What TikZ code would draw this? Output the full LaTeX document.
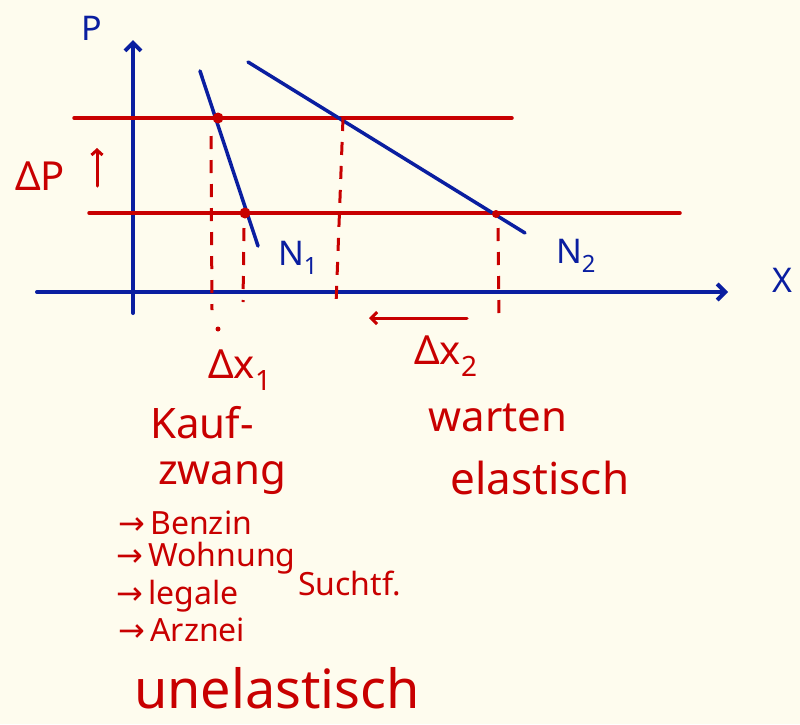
\documentclass[tikz,border=0pt]{standalone}
\usepackage{fontspec}
\setmainfont{Noto Sans}
\newfontfamily\symf{DejaVu Sans}
\usetikzlibrary{arrows.meta}
\definecolor{paper}{RGB}{254,252,238}
\definecolor{ink}{RGB}{10,30,160}
\definecolor{rink}{RGB}{200,0,0}
\tikzset{
  axis/.style={ink, line width=4pt, line cap=round},
  curve/.style={ink, line width=3.5pt, line cap=round},
  level/.style={rink, line width=3.5pt, line cap=round},
  guide/.style={rink, line width=3pt, dash pattern=on 13pt off 11pt},
  pt/.style={circle, fill=rink, inner sep=0pt, minimum size=11pt},
  blab/.style={ink, font=\fontsize{34}{36}\selectfont},
  rlab/.style={rink, font=\fontsize{40}{44}\selectfont, inner sep=0pt},
  slab/.style={rink, font=\fontsize{32}{34}\selectfont, inner sep=0pt, anchor=west},
}
\newcommand{\itm}{{\symf →}\,}
\begin{document}
\begin{tikzpicture}[x=1pt,y=-1pt]
\fill[paper] (0,0) rectangle (800,724);
\useasboundingbox (0,0) rectangle (800,724);
% axes
\coordinate (ybot) at (133,313);
\coordinate (ytop) at (133,40);
\coordinate (xl) at (37,292);
\coordinate (xr) at (728,292);
\draw[axis, -{Straight Barb[length=8pt,width=16pt]}] (ybot) -- (ytop);
\draw[axis, -{Straight Barb[length=8pt,width=16pt]}] (xl) -- (xr);
\node[blab] (P) at (92,28) {P};
\node[blab] (X) at (782,280) {X};
% price levels
\coordinate (u1) at (74,118); \coordinate (u2) at (512,118);
\coordinate (l1) at (89,213); \coordinate (l2) at (680,213);
\draw[level] (u1) -- (u2);
\draw[level] (l1) -- (l2);
% demand curves
\coordinate (n1a) at (200,71); \coordinate (n1b) at (258,246);
\coordinate (n2a) at (248,62); \coordinate (n2b) at (525,233);
\draw[curve] (n1a) -- (n1b);
\draw[curve] (n2a) -- (n2b);
\node[blab] (N1) at (298,258) {N\textsubscript{1}};
\node[blab] (N2) at (576,256) {N\textsubscript{2}};
% points
\node[pt] (A) at (218,118) {};
\node[pt] (B) at (245,213) {};
\node[pt, minimum size=8pt] (C) at (496,214) {};
\coordinate (Cu) at (343,118);
% guides
\coordinate (ga) at (211,136); \coordinate (gab) at (212,310);
\coordinate (gb) at (244,228); \coordinate (gbb) at (243,302);
\coordinate (gcb) at (336,305);
\coordinate (gd) at (498,228); \coordinate (gdb) at (499,320);
\draw[guide] (ga) -- (gab);
\draw[guide] (gb) -- (gbb);
\draw[guide] (Cu) -- (gcb);
\draw[guide] (gd) -- (gdb);
\fill[rink] (218,329) circle (2.5pt);
% shift arrow
\coordinate (sa) at (467,318); \coordinate (sb) at (369,318);
\draw[level, line width=3pt, -{Straight Barb[length=6pt,width=12pt]}] (sa) -- (sb);
% Delta P
\node[rlab] (dP) at (40,176) {ΔP};
\coordinate (pa) at (97,186); \coordinate (pb) at (97,148);
\draw[level, line width=3pt, -{Straight Barb[length=5pt,width=11pt]}] (pa) -- (pb);
% labels below
\node[rlab] (dx1) at (240,370) {Δx\textsubscript{1}};
\node[rlab] (dx2) at (446,356) {Δx\textsubscript{2}};
\node[rlab, font=\fontsize{42}{46}\selectfont, align=left, anchor=north west] (kauf) at (150,406) {Kauf-\\\hspace{8pt}zwang};
\node[rlab, font=\fontsize{42}{44}\selectfont] (warten) at (498,418) {warten};
\node[rlab, font=\fontsize{44}{46}\selectfont] (elast) at (540,478) {elastisch};
\node[slab] (i1) at (118,523) {\itm Benzin};
\node[slab] (i2) at (116,558) {\itm Wohnung};
\node[slab] (i3) at (116,596) {\itm legale};
\node[slab] (i3b) at (298,583) {Suchtf.};
\node[slab] (i4) at (118,630) {\itm Arznei};
\node[rlab, font=\fontsize{54}{56}\selectfont] (unel) at (277,688) {unelastisch};
\end{tikzpicture}
\end{document}
